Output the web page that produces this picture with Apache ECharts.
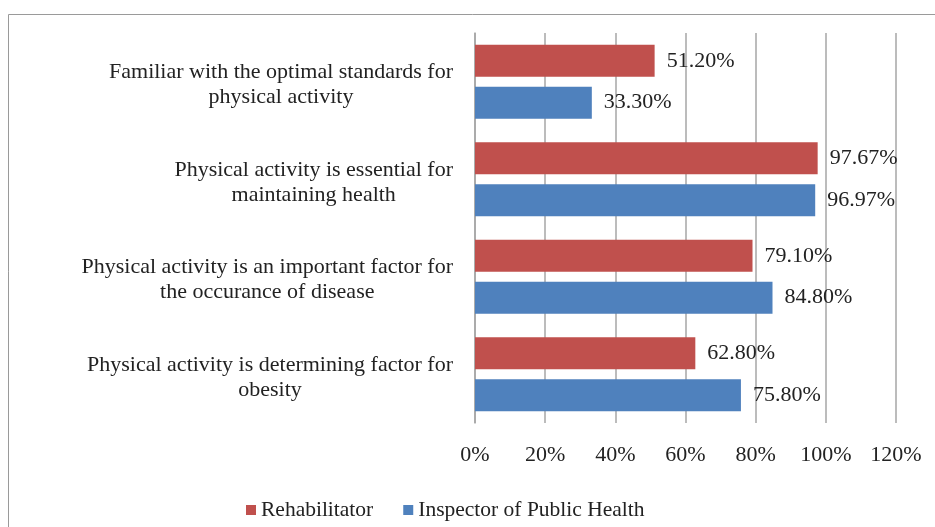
<!DOCTYPE html>
<html>
<head>
<meta charset="utf-8">
<script src="https://cdn.jsdelivr.net/npm/echarts@6/dist/echarts.min.js"></script>
<style>
  html, body { margin: 0; padding: 0; background: #fff; }
  #chart { width: 935px; height: 527px; }
</style>
</head>
<body>
<div id="chart"></div>
<script>
const categories = [
  'Familiar with the optimal standards for\nphysical activity',
  'Physical activity is essential for\nmaintaining health',
  'Physical activity is an important factor for\nthe occurance of disease',
  'Physical activity is determining factor for\nobesity'
]
const rehabilitator = [51.2, 97.67, 79.1, 62.8]
const inspector = [33.3, 96.97, 84.8, 75.8]
const xTicks = [0, 20, 40, 60, 80, 100, 120]

const SERIF = '"Liberation Serif", "DejaVu Serif", serif'
const chart = echarts.init(document.getElementById('chart'))

const barLabel = {
  show: true,
  position: 'right',
  distance: 12,
  fontFamily: SERIF,
  fontSize: 22,
  color: '#222',
  formatter: (p) => p.value.toFixed(2) + '%'
}

chart.setOption({
  animation: false,
  backgroundColor: '#fff',
  graphic: [{
    type: 'rect',
    shape: { x: 8.5, y: 14.5, width: 1000, height: 600 },
    style: { fill: 'none', stroke: '#9a9a9a', lineWidth: 1 },
    silent: true
  }],
  legend: {
    left: 241,
    top: 494,
    itemWidth: 10,
    itemHeight: 10,
    itemGap: 30,
    icon: 'rect',
    textStyle: { fontFamily: SERIF, fontSize: 21.5, color: '#222' },
    data: ['Rehabilitator', 'Inspector of Public Health']
  },
  grid: { left: 475, right: 39, top: 33, bottom: 104, containLabel: false },
  xAxis: {
    type: 'value',
    min: xTicks[0],
    max: xTicks[xTicks.length - 1],
    interval: 20,
    axisLine: { show: false },
    axisTick: { show: false },
    splitLine: { show: true, lineStyle: { color: '#a6a6a6', width: 1.5 } },
    axisLabel: {
      margin: 21,
      fontFamily: SERIF,
      fontSize: 22,
      color: '#222',
      formatter: '{value}%'
    }
  },
  yAxis: {
    type: 'category',
    inverse: true,
    data: categories,
    axisLine: { show: true, lineStyle: { color: '#a6a6a6', width: 1.5 } },
    axisTick: { show: false },
    axisLabel: {
      margin: 22,
      align: 'right',
      fontFamily: SERIF,
      fontSize: 22,
      color: '#222',
      lineHeight: 25,
      padding: [6, 0, 0, 0],
      formatter: (v) => v.split('\n').map((l) => '{c|' + l + '}').join('\n'),
      rich: { c: { align: 'center', fontFamily: SERIF, fontSize: 22, color: '#222', lineHeight: 25 } }
    }
  },
  series: [
    {
      name: 'Rehabilitator',
      type: 'bar',
      data: rehabilitator,
      barWidth: 32,
      barGap: '31%',
      itemStyle: { color: '#c0504d' },
      label: barLabel
    },
    {
      name: 'Inspector of Public Health',
      type: 'bar',
      data: inspector,
      barWidth: 32,
      barGap: '31%',
      itemStyle: { color: '#4f81bd' },
      label: barLabel
    }
  ]
})
</script>
</body>
</html>
